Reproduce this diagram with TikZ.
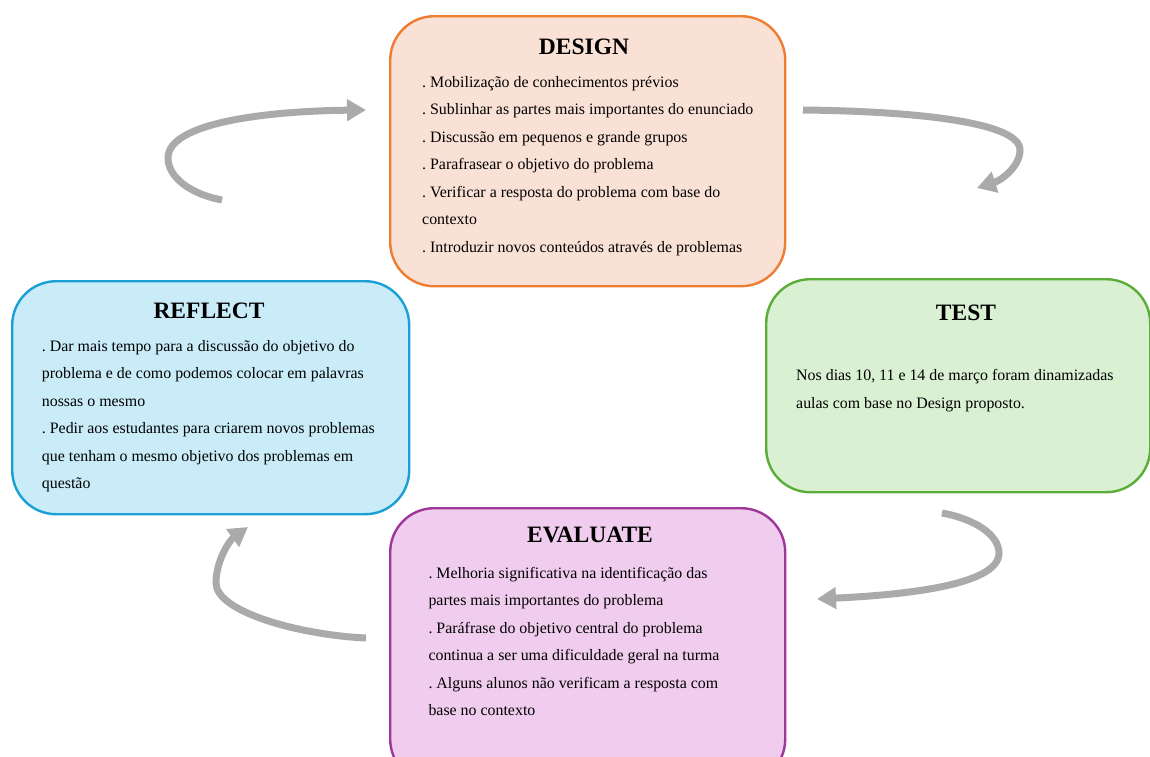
\documentclass[tikz,border=0pt]{standalone}
\usepackage{fontspec}
\setmainfont{Liberation Serif}
\usetikzlibrary{arrows.meta}

\definecolor{dsgnline}{HTML}{ED7D31}
\definecolor{dsgnfill}{HTML}{FAE1D6}
\definecolor{rflline}{HTML}{1A9FD6}
\definecolor{rflfill}{HTML}{C9ECF8}
\definecolor{tstline}{HTML}{5AAD38}
\definecolor{tstfill}{HTML}{D9F0D2}
\definecolor{evlline}{HTML}{A0369A}
\definecolor{evlfill}{HTML}{F0CDEE}
\definecolor{cyclegray}{HTML}{AAAAAA}

\tikzset{
  phasebox/.style={draw, line width=2.4pt, rounded corners=44pt, inner sep=0pt,
    anchor=north west},
  phasetitle/.style={font=\fontsize{23.5}{28}\selectfont\bfseries, anchor=base, inner sep=0pt},
  phasebody/.style={font=\fontsize{15.9}{27.5}\selectfont\frenchspacing, align=left,
    anchor=north west, inner sep=0pt},
  cyclearrow/.style={draw=cyclegray, line width=7pt,
    -{Triangle[length=19pt,width=21pt]}}
}

\begin{document}
\begin{tikzpicture}[x=1pt,y=-1pt]
\useasboundingbox (0,0) rectangle (1150,756);
\clip (0,0) rectangle (1150,756);

% phase boxes
\node[phasebox, fill=dsgnfill, draw=dsgnline, minimum width=395pt, minimum height=270pt]
  (design) at (389,15) {};
\node[phasebox, fill=rflfill, draw=rflline, minimum width=397pt, minimum height=233pt]
  (reflect) at (11,280) {};
\node[phasebox, fill=tstfill, draw=tstline, minimum width=384pt, minimum height=213pt]
  (test) at (765,278) {};
\node[phasebox, fill=evlfill, draw=evlline, minimum width=395pt, minimum height=275pt]
  (evaluate) at (389,507) {};

% titles
\node[phasetitle] (designT) at (584,54.3) {DESIGN};
\node[phasetitle] (reflectT) at (209,318.3) {REFLECT};
\node[phasetitle] (testT) at (966,320) {TEST};
\node[phasetitle] (evaluateT) at (590,542.3) {EVALUATE};

% bodies (top = first baseline - strut height)
\node[phasebody] (designB) at (422,67.7) {\strut. Mobilização de conhecimentos prévios\\
. Sublinhar as partes mais importantes do enunciado\\
. Discussão em pequenos e grande grupos\\
. Parafrasear o objetivo do problema\\
. Verificar a resposta do problema com base do\\
contexto\\
. Introduzir novos conteúdos através de problemas};

\node[phasebody] (reflectB) at (41.7,331.7) {\strut. Dar mais tempo para a discussão do objetivo do\\
problema e de como podemos colocar em palavras\\
nossas o mesmo\\
. Pedir aos estudantes para criarem novos problemas\\
que tenham o mesmo objetivo dos problemas em\\
questão};

\node[phasebody] (testB) at (796,361.4) {\strut Nos dias 10, 11 e 14 de março foram dinamizadas\\
aulas com base no Design proposto.};

\node[phasebody] (evaluateB) at (428.3,559) {\strut. Melhoria significativa na identificação das\\
partes mais importantes do problema\\
. Paráfrase do objetivo central do problema\\
continua a ser uma dificuldade geral na turma\\
. Alguns alunos não verificam a resposta com\\
base no contexto};

% cycle arrows
\coordinate (a1s) at (222,200);
\coordinate (a1m) at (168,158);
\coordinate (a1e) at (366,110);
\draw[cyclearrow] (a1s) .. controls (190,194) and (168,177) .. (a1m)
  .. controls (168,122) and (270,111) .. (a1e);

\coordinate (a2s) at (803,110);
\coordinate (a2m) at (1020,150);
\coordinate (a2e) at (977,188);
\draw[cyclearrow] (a2s) .. controls (900,111) and (1020,120) .. (a2m)
  .. controls (1020,166) and (1002,180) .. (a2e);

\coordinate (a3s) at (942,513);
\coordinate (a3m) at (999,553);
\coordinate (a3e) at (817,599);
\draw[cyclearrow] (a3s) .. controls (975,519) and (999,535) .. (a3m)
  .. controls (999,586) and (900,595) .. (a3e);

\coordinate (a4s) at (366,638);
\coordinate (a4m) at (216,583);
\coordinate (a4e) at (248,527);
\draw[cyclearrow] (a4s) .. controls (300,635) and (216,612) .. (a4m)
  .. controls (216,560) and (230,540) .. (a4e);
\end{tikzpicture}
\end{document}
